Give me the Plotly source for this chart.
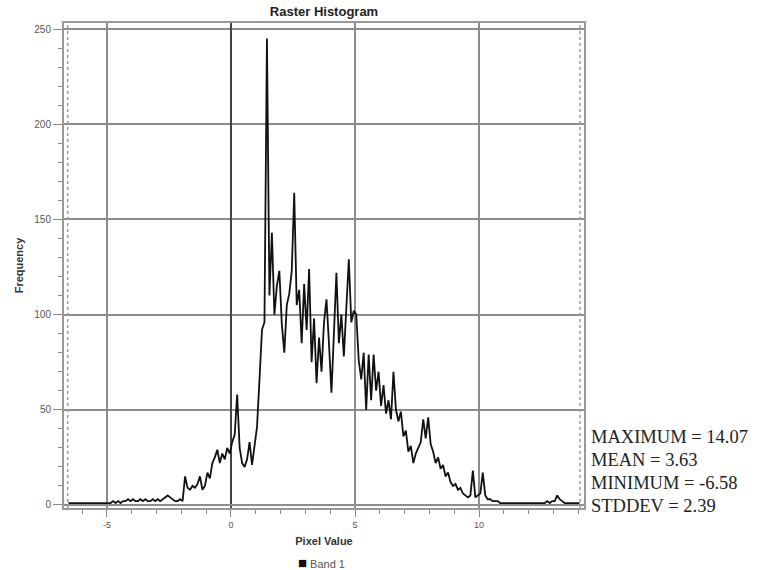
import plotly.graph_objects as go

# ---- data ----
BIN_START = -6.55
BIN_WIDTH = 0.1
frequency = [
    # -6.55 .. -6.05
    1, 1, 1, 1, 1, 1,
    # -5.95 .. -5.05
    1, 1, 1, 1, 1, 1, 1, 1, 1, 1,
    # -4.95 .. -4.05
    1, 1, 2, 1, 2, 1, 2, 2, 3, 2,
    # -3.95 .. -3.05
    3, 2, 2, 3, 2, 3, 2, 2, 3, 2,
    # -2.95 .. -2.05
    3, 2, 3, 4, 5, 4, 3, 2, 2, 3,
    # -1.95 .. -1.05
    2, 15, 9, 8, 10, 9, 11, 15, 8, 10,
    # -0.95 .. -0.05
    17, 14, 22, 25, 29, 22, 27, 24, 30, 27,
    # 0.05 .. 0.95
    33, 37, 58, 30, 22, 20, 24, 33, 21, 31,
    # 1.05 .. 1.95
    41, 66, 92, 96, 245, 110, 143, 100, 115, 123,
    # 2.05 .. 2.95
    95, 80, 105, 111, 123, 164, 105, 113, 85, 116,
    # 3.05 .. 3.95
    92, 124, 75, 98, 64, 88, 70, 96, 108, 85,
    # 4.05 .. 4.95
    59, 90, 122, 85, 100, 78, 105, 129, 96, 102,
    # 5.05 .. 5.95
    100, 76, 66, 80, 50, 79, 55, 79, 60, 70,
    # 6.05 .. 6.95
    52, 63, 48, 55, 45, 70, 50, 44, 49, 36,
    # 7.05 .. 7.95
    39, 28, 31, 22, 27, 30, 33, 45, 35, 46,
    # 8.05 .. 8.95
    32, 28, 22, 25, 19, 21, 15, 17, 12, 10,
    # 9.05 .. 9.95
    11, 8, 9, 6, 5, 4, 5, 18, 4, 5,
    # 10.05 .. 10.95
    6, 17, 5, 3, 3, 2, 2, 2, 1, 1,
    # 11.05 .. 11.95
    1, 1, 1, 1, 1, 1, 1, 1, 1, 1,
    # 12.05 .. 12.95
    1, 1, 1, 1, 1, 1, 1, 2, 1, 2,
    # 13.05 .. 13.95
    2, 5, 3, 2, 1, 1, 1, 1, 1, 1,
    # 14.05
    1,
]
pixel_value = [round(BIN_START + i * BIN_WIDTH, 2) for i in range(len(frequency))]

stat_names = ["MAXIMUM", "MEAN", "MINIMUM", "STDDEV"]
stat_values = [14.07, 3.63, -6.58, 2.39]
x_tick_values = [-5, 0, 5, 10]
x_tick_labels = ["-5", "0", "5", "10"]
y_tick_values = [0, 50, 100, 150, 200, 250]
series_name = "Band 1"

# plot-area geometry (pixels)
L, R, T, B = 64, 584, 23, 508
W, H = 764, 570
PW, PH = R - L, B - T

def px_x(x):
    return (x - L) / PW

def px_y(y):
    return (B - y) / PH

# ---- figure ----
fig = go.Figure()
fig.add_trace(go.Scatter(
    x=pixel_value, y=frequency, mode="lines", name=series_name,
    line=dict(color="#111111", width=1.8),
    showlegend=False, hoverinfo="x+y",
))

# dashed lines at min / max
vmax = stat_values[0]
vmin = stat_values[2]
for v in (vmin, vmax):
    fig.add_shape(type="line", xref="x", yref="paper", x0=v, x1=v, y0=0, y1=1,
                  line=dict(color="#9a9a9a", width=1.5, dash="dot"))

# stats text
line_y = [437, 460, 483, 506]
for name, val, py in zip(stat_names, stat_values, line_y):
    fig.add_annotation(
        xref="paper", yref="paper",
        x=px_x(589), y=px_y(py),
        xanchor="left", yanchor="middle",
        text=f"{name} = {val:.2f}", showarrow=False,
        font=dict(family="Liberation Serif, Times New Roman, serif", size=18.5, color="#222222"),
    )

# legend swatch + label
fig.add_annotation(
    xref="paper", yref="paper", x=px_x(321), y=px_y(562),
    xanchor="center", yanchor="middle", showarrow=False,
    text=f"<span style='color:#111111;font-size:15px'>■</span> {series_name}",
    font=dict(family="Liberation Sans, Arial, sans-serif", size=11, color="#555555"),
)

fig.update_layout(
    width=W, height=H,
    margin=dict(l=L, r=W - R, t=T, b=H - B, autoexpand=False),
    paper_bgcolor="white", plot_bgcolor="white",
    title=dict(text="<b>Raster Histogram</b>", x=324 / W, xanchor="center",
               y=1 - 11 / H, yanchor="middle", automargin=False,
               font=dict(family="Liberation Sans, Arial, sans-serif", size=13, color="#222222")),
    font=dict(family="Liberation Sans, Arial, sans-serif", size=9, color="#555555"),
    showlegend=False,
)

fig.update_xaxes(
    range=[-6.73, 14.23], automargin=False,
    tickmode="array", tickvals=x_tick_values, ticktext=x_tick_labels,
    ticks="outside", ticklen=7, tickcolor="#888888", tickwidth=1,
    minor=dict(dtick=1, tick0=0, ticks="outside", ticklen=4, tickcolor="#888888", showgrid=False),
    showgrid=True, gridcolor="#8c8c8c", gridwidth=1.5,
    zeroline=True, zerolinecolor="#444444", zerolinewidth=1.6,
    showline=True, linecolor="#999999", linewidth=2, mirror=True,
    tickfont=dict(size=9, color="#555555"),
    title=dict(text="<b>Pixel Value</b>", font=dict(size=11, color="#333333"), standoff=9),
)
fig.update_yaxes(
    range=[-1.6, 253.2], automargin=False,
    tickmode="array", tickvals=y_tick_values,
    ticks="outside", ticklen=9, tickcolor="#888888", tickwidth=1,
    minor=dict(dtick=10, tick0=0, ticks="outside", ticklen=4, tickcolor="#888888", showgrid=False),
    showgrid=True, gridcolor="#8c8c8c", gridwidth=1.5,
    zeroline=True, zerolinecolor="#8c8c8c", zerolinewidth=1.5,
    showline=True, linecolor="#999999", linewidth=2, mirror=True,
    tickfont=dict(size=10, color="#555555"),
    title=dict(text="<b>Frequency</b>", font=dict(size=11, color="#333333"), standoff=8),
)

fig.write_html("out.html", config={"displayModeBar": False},
               post_script="document.body.style.margin='0';")
